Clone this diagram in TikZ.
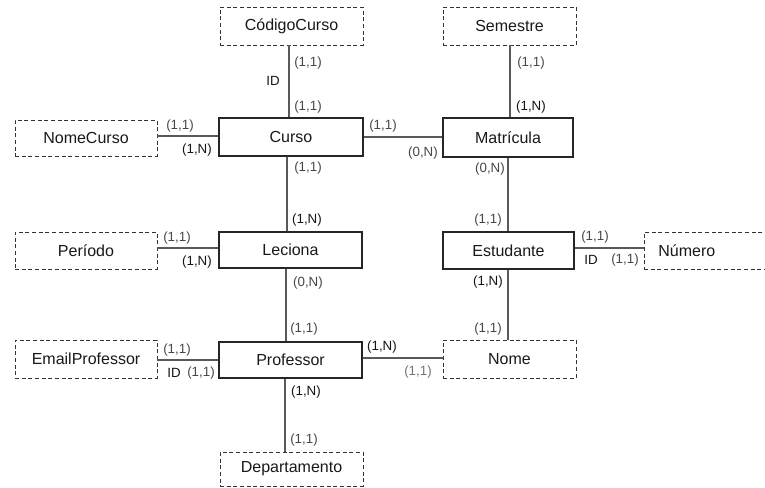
\documentclass[tikz,border=0pt]{standalone}
\usepackage{fontspec}
\setmainfont{Liberation Sans}
\begin{document}
\begin{tikzpicture}[x=0.75pt,y=-0.75pt,
  entity/.style={draw=black!85, line width=1.1pt, fill=white, inner sep=0pt,
    font=\fontsize{12}{14}\selectfont, text=black!90},
  attr/.style={draw=black!80, dash pattern=on 3pt off 2pt, line width=0.65pt, fill=white, inner sep=0pt,
    font=\fontsize{12}{14}\selectfont, text=black!90},
  conn/.style={draw=black!65, line width=1.4pt},
  lab/.style={inner sep=0pt, font=\fontsize{10}{12}\selectfont, text=black!72},
  labb/.style={lab, text=black!92}]
\useasboundingbox (0,0) rectangle (765,488);
% guide coordinates for connector positions
\coordinate (x289) at (289,0);
\coordinate (x287) at (287,0);
\coordinate (x286) at (286,0);
\coordinate (x285) at (285,0);
\coordinate (x510) at (510,0);
\coordinate (x508) at (508,0);
\coordinate (y136) at (0,136);
\coordinate (y137) at (0,137);
\coordinate (y248) at (0,248);
\coordinate (y360) at (0,360);
\coordinate (y358) at (0,358);
% nodes
\node[attr, minimum width=107.25pt, minimum height=28.5pt] (cod) at (291.5,26) {CódigoCurso};
\node[attr, minimum width=99.75pt, minimum height=28.5pt] (sem) at (509.5,26) {Semestre};
\node[attr, minimum width=106.5pt, minimum height=27pt] (nomec) at (86,138) {NomeCurso};
\node[entity, minimum width=108pt, minimum height=28.5pt] (curso) at (291,137) {Curso};
\node[entity, minimum width=97.5pt, minimum height=29.25pt] (mat) at (508,137.5) {Matrícula};
\node[attr, minimum width=106.5pt, minimum height=27.75pt] (per) at (86,250.5) {Período};
\node[entity, minimum width=107.25pt, minimum height=27pt] (lec) at (290.5,250) {Leciona};
\node[entity, minimum width=98.25pt, minimum height=27.75pt] (est) at (508.5,250.5) {Estudante};
\node[attr, minimum width=93pt, minimum height=27.75pt, text width=91.5pt, align=left] (num) at (706,250.5) {\hspace*{10pt}Número};
\node[attr, minimum width=106.5pt, minimum height=28.5pt] (email) at (86,359) {EmailProfessor};
\node[entity, minimum width=107.25pt, minimum height=27pt] (prof) at (290.5,360) {Professor};
\node[attr, minimum width=99.75pt, minimum height=28.5pt] (nome) at (509.5,359) {Nome};
\node[attr, minimum width=107.25pt, minimum height=25.5pt] (dep) at (291.5,469) {Departamento};
% connectors
\draw[conn] (cod.south -| x289) -- (curso.north -| x289);
\draw[conn] (sem.south -| x510) -- (mat.north -| x510);
\draw[conn] (nomec.east |- y136) -- (curso.west |- y136);
\draw[conn] (curso.east |- y137) -- (mat.west |- y137);
\draw[conn] (curso.south -| x287) -- (lec.north -| x287);
\draw[conn] (mat.south -| x508) -- (est.north -| x508);
\draw[conn] (per.east |- y248) -- (lec.west |- y248);
\draw[conn] (est.east |- y248) -- (num.west |- y248);
\draw[conn] (lec.south -| x286) -- (prof.north -| x286);
\draw[conn] (est.south -| x508) -- (nome.north -| x508);
\draw[conn] (email.east |- y360) -- (prof.west |- y360);
\draw[conn] (prof.east |- y358) -- (nome.west |- y358);
\draw[conn] (prof.south -| x285) -- (dep.north -| x285);
% cardinality labels
\node[lab] (l1) at (308,63) {(1,1)};
\node[labb] (l2) at (273,81) {ID};
\node[lab] (l3) at (308,107) {(1,1)};
\node[lab] (l4) at (180,126) {(1,1)};
\node[labb] (l5) at (197,150) {(1,N)};
\node[lab] (l6) at (383,126) {(1,1)};
\node[lab] (l7) at (423,153) {(0,N)};
\node[lab] (l8) at (531,63) {(1,1)};
\node[labb] (l9) at (531,107) {(1,N)};
\node[lab] (l10) at (490,169) {(0,N)};
\node[lab] (l11) at (488,220) {(1,1)};
\node[lab] (l12) at (308,168) {(1,1)};
\node[labb] (l13) at (307,220) {(1,N)};
\node[lab] (l14) at (177,238) {(1,1)};
\node[labb] (l15) at (197,262) {(1,N)};
\node[lab] (l16) at (595,237) {(1,1)};
\node[labb] (l17) at (591,260) {ID};
\node[lab] (l18) at (625,260) {(1,1)};
\node[labb] (l19) at (488,282) {(1,N)};
\node[lab] (l20) at (488,329) {(1,1)};
\node[lab] (l21) at (308,283) {(0,N)};
\node[lab] (l22) at (304,329) {(1,1)};
\node[lab] (l23) at (177,350) {(1,1)};
\node[labb] (l24) at (174,373) {ID};
\node[lab] (l25) at (201,373) {(1,1)};
\node[labb] (l26) at (382,347) {(1,N)};
\node[lab, text=black!55] (l27) at (418,372) {(1,1)};
\node[labb] (l28) at (306,392) {(1,N)};
\node[lab] (l29) at (304,440) {(1,1)};
\end{tikzpicture}
\end{document}
